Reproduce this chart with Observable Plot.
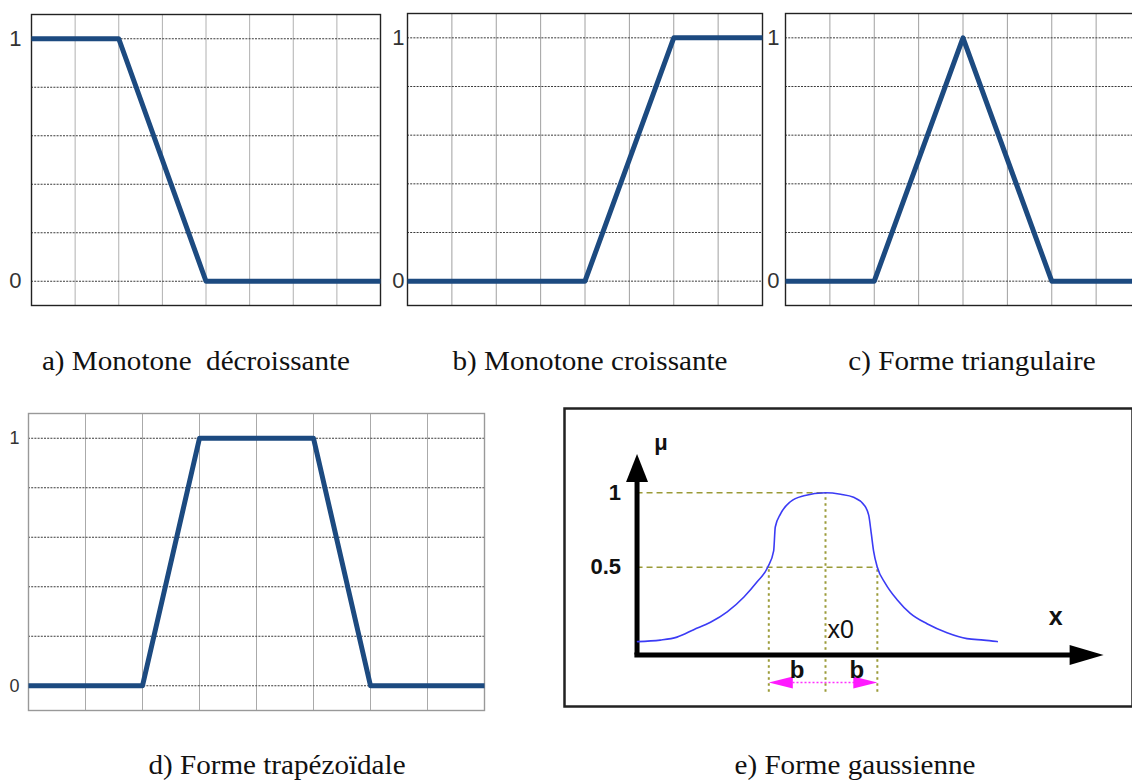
<!DOCTYPE html>
<html>
<head>
<meta charset="utf-8">
<script src="https://cdn.jsdelivr.net/npm/d3@7"></script>
<script src="https://cdn.jsdelivr.net/npm/@observablehq/plot@0.6"></script>
<style>
  html, body { margin: 0; padding: 0; background: #fff; overflow: hidden; }
  #page { position: relative; width: 1132px; height: 780px; overflow: hidden; }
  .panel { position: absolute; }
  .caption {
    position: absolute;
    font-family: "Liberation Serif", "Times New Roman", serif;
    font-size: 28px;
    line-height: 28px;
    color: #111;
    white-space: pre;
    transform: translateX(-50%) scaleX(1.04);
    transform-origin: 50% 50%;
  }
</style>
</head>
<body>
<div id="page"></div>
<script>
// ---- Grid ticks shared by the four piecewise-linear panels ----
const xTicks = [0, 1, 2, 3, 4, 5, 6, 7, 8];
const muTicks = [0, 0.2, 0.4, 0.6, 0.8, 1];
const muLabels = [0, 1];

// ---- Breakpoints of the piecewise-linear membership functions ----
const decreasingX = [0, 2, 4, 8];
const decreasingMu = [1, 1, 0, 0];
const increasingX = [0, 4, 6, 8];
const increasingMu = [0, 0, 1, 1];
const triangleX = [0, 2, 4, 6, 8];
const triangleMu = [0, 0, 1, 0, 0];
const trapezoidX = [0, 2, 3, 5, 6, 8];
const trapezoidMu = [0, 0, 1, 1, 0, 0];

// ---- Bell-shaped curve (x in units of b, centred on x0) ----
const gaussX = [-3.48, -3.06, -2.75, -2.44, -2.13, -1.82, -1.51, -1.27, -1.07, -0.96, -0.93, -0.83, -0.65, -0.40, 0.00,
                0.28, 0.52, 0.71, 0.80, 0.85, 0.89, 0.96, 1.11, 1.33, 1.57, 1.88, 2.25, 2.62, 2.93, 3.18];
const gaussMu = [0.00, 0.01, 0.03, 0.08, 0.13, 0.20, 0.30, 0.40, 0.50, 0.61, 0.77, 0.86, 0.94, 0.98, 1.00,
                 0.99, 0.97, 0.92, 0.85, 0.72, 0.61, 0.50, 0.39, 0.28, 0.19, 0.12, 0.06, 0.02, 0.01, 0.00];
const x0 = 0;
const halfLeft = -1.05;   // left crossing of μ = 0.5
const halfRight = 0.96;   // right crossing of μ = 0.5
const axisX = -3.49;      // position of the μ axis
const axisMu = -0.09;     // position of the x axis
const axisTopMu = 1.26;   // tip of the μ arrow
const axisRightX = 5.15;  // tip of the x arrow
const spanMu = -0.275;    // level of the ±b arrow
const guideBottomMu = -0.34;

const captions = ["a) Monotone  décroissante", "b) Monotone croissante", "c) Forme triangulaire",
                  "d) Forme trapézoïdale", "e) Forme gaussienne"];

const page = document.getElementById("page");
const lineBlue = "#1c4a80";
const sans = "Liberation Sans, Arial, sans-serif";

function place(node, left, top) {
  node.classList.add("panel");
  node.style.left = left + "px";
  node.style.top = top + "px";
  page.appendChild(node);
}

function piecewisePanel(xs, mus, o) {
  const pts = xs.map((x, i) => ({x, mu: mus[i]}));
  const chart = Plot.plot({
    width: o.marginLeft + o.frameW + 3,
    height: o.frameH + 4,
    marginLeft: o.marginLeft, marginRight: 3, marginTop: 2, marginBottom: 2,
    x: {domain: [0, 8], axis: null},
    y: {domain: [-0.1, 1.1], axis: null},
    style: {background: "transparent", overflow: "visible"},
    marks: [
      Plot.ruleX(xTicks, {stroke: o.vGrid, strokeWidth: 1}),
      Plot.ruleY(muTicks, {stroke: "#3a3a3a", strokeWidth: 1, strokeDasharray: "2,1.2"}),
      Plot.frame({stroke: o.frameColor, strokeWidth: 1.4}),
      Plot.line(pts, {x: "x", y: "mu", stroke: lineBlue, strokeWidth: 5,
                      strokeLinecap: "butt", strokeLinejoin: "round"}),
      Plot.text(muLabels, {x: () => 0, y: d => d, text: d => String(d), textAnchor: "end",
                           dx: -o.labelPad, fontSize: o.fontSize, fill: "#333", fontFamily: sans})
    ]
  });
  place(chart, o.frameLeft - o.marginLeft, o.frameTop - 2);
}

piecewisePanel(decreasingX, decreasingMu, {frameLeft: 31, frameTop: 14, frameW: 349, frameH: 291,
  marginLeft: 31, frameColor: "#222", vGrid: "#b0b0b0", labelPad: 10, fontSize: 22});
piecewisePanel(increasingX, increasingMu, {frameLeft: 407, frameTop: 13, frameW: 355, frameH: 292,
  marginLeft: 27, frameColor: "#222", vGrid: "#a0a0a0", labelPad: 3, fontSize: 22});
piecewisePanel(triangleX, triangleMu, {frameLeft: 785, frameTop: 13, frameW: 355, frameH: 292,
  marginLeft: 25, frameColor: "#222", vGrid: "#a0a0a0", labelPad: 6, fontSize: 22});
piecewisePanel(trapezoidX, trapezoidMu, {frameLeft: 28, frameTop: 413, frameW: 456, frameH: 297,
  marginLeft: 28, frameColor: "#999", vGrid: "#aaaaaa", labelPad: 9, fontSize: 18});

// ---- Panel e: bell-shaped membership function ----
function arrowHead(length, half) {
  // tip at the origin, pointing up
  return {draw(ctx) { ctx.moveTo(0, 0); ctx.lineTo(half, length); ctx.lineTo(-half, length); ctx.closePath(); }};
}
const bell = gaussX.map((x, i) => ({x, mu: gaussMu[i]}));
const olive = "#9b9b38";

const gaussChart = Plot.plot({
  width: 572, height: 302,
  margin: 2,
  x: {domain: [-261 / 54, 307 / 54], axis: null},
  y: {domain: [-64.9 / 148.8, 233.1 / 148.8], axis: null},
  style: {background: "transparent", overflow: "visible"},
  marks: [
    Plot.frame({stroke: "#222", strokeWidth: 2.5}),
    // guide lines
    Plot.ruleY([{mu: 1, end: x0}, {mu: 0.5, end: halfRight}],
               {y: "mu", x1: axisX, x2: "end", stroke: olive, strokeWidth: 1.6, strokeDasharray: "6,4"}),
    Plot.ruleX([{x: halfLeft, top: 0.5}, {x: x0, top: 1}, {x: halfRight, top: 0.5}],
               {x: "x", y1: guideBottomMu, y2: "top", stroke: olive, strokeWidth: 2, strokeDasharray: "2.5,3.5"}),
    // axes with filled arrowheads
    Plot.ruleX([axisX], {y1: axisMu, y2: axisTopMu - 0.17, stroke: "#000", strokeWidth: 5}),
    Plot.ruleY([axisMu], {x1: axisX - 0.04, x2: axisRightX - 0.55, stroke: "#000", strokeWidth: 5}),
    Plot.dot([{x: axisX, mu: axisTopMu}], {x: "x", y: "mu", fill: "#000", symbol: arrowHead(28, 11)}),
    Plot.dot([{x: axisRightX, mu: axisMu}], {x: "x", y: "mu", fill: "#000", symbol: arrowHead(34, 10), rotate: 90}),
    // the curve
    Plot.line(bell, {x: "x", y: "mu", stroke: "#3b3bf5", strokeWidth: 1.6, curve: "monotone-x"}),
    // ±b span
    Plot.ruleY([spanMu], {x1: halfLeft + 0.3, x2: halfRight - 0.3, stroke: "#ff30ff", strokeWidth: 1.5, strokeDasharray: "2,2"}),
    Plot.dot([{x: halfLeft, mu: spanMu, r: -90}, {x: halfRight, mu: spanMu, r: 90}],
             {x: "x", y: "mu", rotate: "r", fill: "#ff1aff", symbol: arrowHead(24, 6)}),
    // labels
    Plot.text([1, 0.5], {x: () => axisX, y: d => d, text: d => String(d), textAnchor: "end", dx: -16,
                         fontSize: 22, fontWeight: "bold", fill: "#111", fontFamily: sans}),
    Plot.text(["μ"], {x: () => axisX, y: () => axisTopMu, dx: 24, dy: -11, fontSize: 22,
                      fontWeight: "bold", fill: "#111", fontFamily: sans}),
    Plot.text(["x0"], {x: () => x0, y: () => axisMu, dx: 2, dy: -25, textAnchor: "start", fontSize: 25,
                       fill: "#111", fontFamily: sans}),
    Plot.text(["x"], {x: () => axisRightX, y: () => axisMu, dx: -48, dy: -38, fontSize: 25,
                      fontWeight: "bold", fill: "#111", fontFamily: sans}),
    Plot.text([(halfLeft + x0) / 2, (halfRight + x0) / 2 + 0.1], {x: d => d, y: () => spanMu,
              dy: -12, text: () => "b", fontSize: 24, fontWeight: "bold", fill: "#111", fontFamily: sans})
  ]
});
place(gaussChart, 562, 406);

// ---- Captions ----
const captionPos = [[196, 347], [590, 347], [972, 347], [277, 751], [855, 751]];
captions.forEach((t, i) => {
  const d = document.createElement("div");
  d.className = "caption";
  d.textContent = t;
  d.style.left = captionPos[i][0] + "px";
  d.style.top = captionPos[i][1] + "px";
  page.appendChild(d);
});
</script>
</body>
</html>
